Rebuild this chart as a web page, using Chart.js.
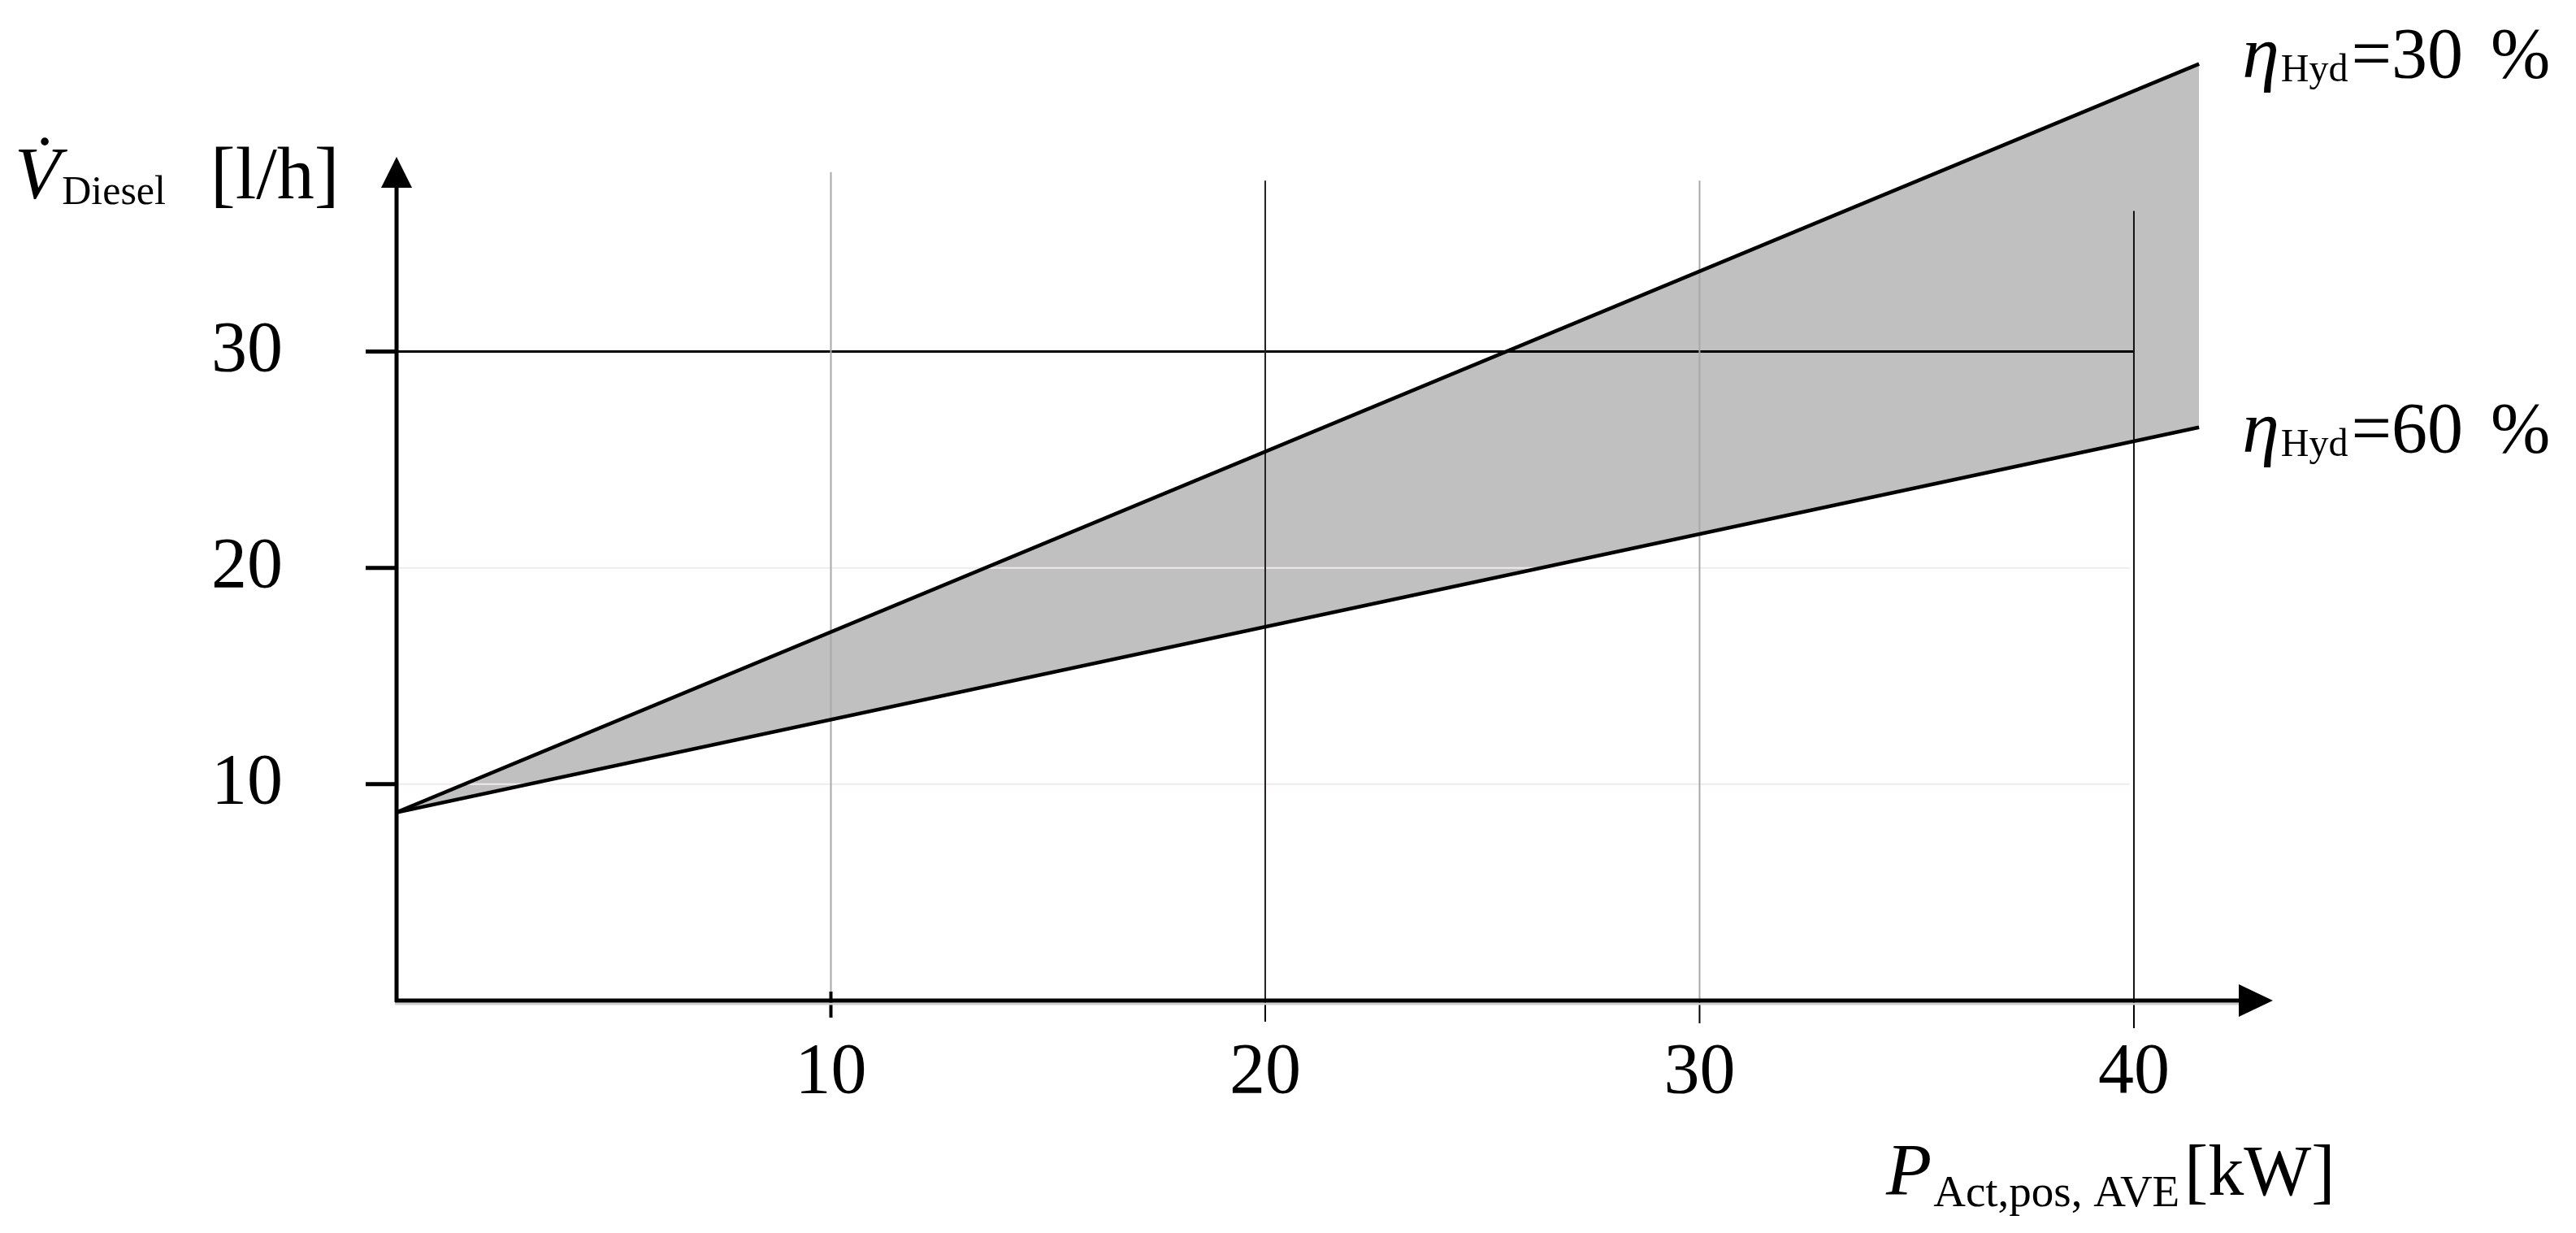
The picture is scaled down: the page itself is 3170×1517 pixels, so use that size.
<!DOCTYPE html>
<html>
<head>
<meta charset="utf-8">
<script src="https://cdn.jsdelivr.net/npm/chart.js@4.4.1/dist/chart.umd.min.js"></script>
<style>
  html, body { margin: 0; padding: 0; background: #fff; }
  #wrap { width: 3170px; height: 1517px; }
</style>
</head>
<body>
<div id="wrap"><canvas id="chart" width="3170" height="1517"></canvas></div>
<script>
// values
const powerKW = [0, 41.5];            // P_Act,pos,AVE [kW]
const dieselEta30 = [8.7, 43.3];      // V_Diesel [l/h] at eta_Hyd = 30 %
const dieselEta60 = [8.7, 26.5];      // V_Diesel [l/h] at eta_Hyd = 60 %
const etaLabels = ['30 %', '60 %'];
const xTicks = [10, 20, 30, 40];
const yTicks = [10, 20, 30];

const SERIF = '"Liberation Serif", "DejaVu Serif", serif';
const font = (size, italic) => (italic ? 'italic ' : '') + size + 'px ' + SERIF;

function toPoints(xs, ys) {
    return xs.map((x, i) => ({ x: x, y: ys[i] }));
}

// draw a run of text pieces one after another (for subscripts)
function drawRich(ctx, x, y, parts) {
    parts.forEach(p => {
        ctx.font = p.font;
        if (p.x !== undefined) x = p.x;
        ctx.fillText(p.text, x, y + (p.dy || 0));
        x += ctx.measureText(p.text).width + (p.gap || 0);
    });
}

const sketchPlugin = {
    id: 'sketch',
    // grid lines go over the grey band, under the curves
    beforeDatasetsDraw(chart, args, opts) {
        const ctx = chart.ctx;
        const xs = chart.scales.x, ys = chart.scales.y;
        const y0 = ys.getPixelForValue(0);
        ctx.save();
        // faint horizontal lines + the 30 line
        yTicks.forEach((v, i) => {
            const st = opts.yGrid[i];
            const py = ys.getPixelForValue(v);
            ctx.strokeStyle = st.color;
            ctx.lineWidth = st.width;
            ctx.beginPath();
            ctx.moveTo(xs.left + (st.from || 0), py);
            ctx.lineTo(xs.getPixelForValue(st.to), py);
            ctx.stroke();
        });
        // vertical lines
        xTicks.forEach((v, i) => {
            const st = opts.xGrid[i];
            const px = xs.getPixelForValue(v);
            ctx.strokeStyle = st.color;
            ctx.lineWidth = st.width;
            ctx.beginPath();
            ctx.moveTo(px, ys.getPixelForValue(st.top));
            ctx.lineTo(px, y0);
            ctx.stroke();
        });
        ctx.restore();
    },
    afterDraw(chart, args, opts) {
        const ctx = chart.ctx;
        const xs = chart.scales.x, ys = chart.scales.y;
        const x0 = xs.getPixelForValue(0), y0 = ys.getPixelForValue(0);
        const xEnd = chart.chartArea.right;
        const yEnd = ys.getPixelForValue(opts.yArrow);
        ctx.save();
        ctx.fillStyle = '#000';
        ctx.strokeStyle = '#000';

        // tick marks
        xTicks.forEach((v, i) => {
            const st = opts.xGrid[i];
            const px = xs.getPixelForValue(v);
            ctx.lineWidth = st.tickWidth;
            ctx.beginPath();
            ctx.moveTo(px, y0 - st.tickUp);
            ctx.lineTo(px, y0 + st.tickDown);
            ctx.stroke();
        });
        yTicks.forEach(v => {
            const py = ys.getPixelForValue(v);
            ctx.lineWidth = 5;
            ctx.beginPath();
            ctx.moveTo(x0 - 38, py);
            ctx.lineTo(x0, py);
            ctx.stroke();
        });

        // light shadow under x axis
        ctx.strokeStyle = '#cfcfcf';
        ctx.lineWidth = 3;
        ctx.beginPath();
        ctx.moveTo(x0 - 2, y0 + 4);
        ctx.lineTo(xEnd - 40, y0 + 4);
        ctx.stroke();

        // axes with arrow heads
        ctx.strokeStyle = '#000';
        ctx.lineWidth = 5;
        ctx.beginPath();
        ctx.moveTo(x0 - 2, y0);
        ctx.lineTo(xEnd - 38, y0);
        ctx.moveTo(x0, y0 + 2);
        ctx.lineTo(x0, yEnd + 36);
        ctx.stroke();
        ctx.beginPath();
        ctx.moveTo(xEnd, y0);
        ctx.lineTo(xEnd - 42, y0 - 20);
        ctx.lineTo(xEnd - 42, y0 + 20);
        ctx.closePath();
        ctx.fill();
        ctx.beginPath();
        ctx.moveTo(x0, yEnd);
        ctx.lineTo(x0 - 19, yEnd + 38);
        ctx.lineTo(x0 + 19, yEnd + 38);
        ctx.closePath();
        ctx.fill();

        // curve labels
        ctx.textBaseline = 'alphabetic';
        ctx.textAlign = 'left';
        const series = [dieselEta30, dieselEta60];
        series.forEach((s, i) => {
            const lx = xs.getPixelForValue(powerKW[powerKW.length - 1]) + 53;
            const ly = ys.getPixelForValue(s[s.length - 1]) + opts.labelDy[i];
            const parts = etaLabels[i].split(' ');
            drawRich(ctx, lx, ly, [
                { text: 'η', font: font(92, true), gap: 2 },
                { text: 'Hyd', font: font(48), dy: 5, gap: 4 },
                { text: '=' + parts[0], font: font(88), gap: 34 },
                { text: parts[1], font: font(88) },
            ]);
        });

        // y axis title
        drawRich(ctx, 18, 244, [
            { text: 'V', font: font(92, true), gap: 2 },
            { text: 'Diesel', font: font(50), dy: 7 },
            { text: '[l/h]', font: font(92), x: 259 },
        ]);
        ctx.font = font(90);
        ctx.fillText('˙', 40, 230);

        // x axis title
        drawRich(ctx, 2321, 1470, [
            { text: 'P', font: font(92, true), gap: 2 },
            { text: 'Act,pos, AVE', font: font(55), dy: 14 },
            { text: '[kW]', font: font(88), x: 2688 },
        ]);
        ctx.restore();
    }
};

new Chart(document.getElementById('chart'), {
    type: 'line',
    data: {
        datasets: [
            {
                label: 'ηHyd=30 %',
                data: toPoints(powerKW, dieselEta30),
                borderColor: '#000',
                borderWidth: 4.5,
                backgroundColor: '#c0c0c0',
                fill: '+1',
            },
            {
                label: 'ηHyd=60 %',
                data: toPoints(powerKW, dieselEta60),
                borderColor: '#000',
                borderWidth: 4.5,
                fill: false,
            }
        ]
    },
    options: {
        responsive: false,
        animation: false,
        layout: { padding: { left: 0, right: 373, top: 0, bottom: 0 } },
        elements: { point: { radius: 0 }, line: { tension: 0 } },
        plugins: {
            legend: { display: false },
            tooltip: { enabled: false },
            filler: { drawTime: 'beforeDatasetsDraw' },
            sketch: {
                yArrow: 39.0,
                labelDy: [16, 30],
                xGrid: [
                    { top: 38.3, color: '#a8a8a8', width: 2, tickWidth: 4, tickUp: 11, tickDown: 21 },
                    { top: 37.9, color: '#222', width: 2, tickWidth: 2, tickUp: 0, tickDown: 26 },
                    { top: 37.9, color: '#a8a8a8', width: 2, tickWidth: 2, tickUp: 0, tickDown: 28 },
                    { top: 36.5, color: '#111', width: 2, tickWidth: 2, tickUp: 0, tickDown: 34 },
                ],
                yGrid: [
                    { color: '#f1eaec', width: 2, to: 39.9 },
                    { color: '#f1eaec', width: 2, to: 39.9 },
                    { color: '#000', width: 3, to: 40, from: -38 },
                ],
            },
        },
        scales: {
            x: {
                type: 'linear',
                min: 0,
                max: 43.2,
                afterBuildTicks: s => { s.ticks = xTicks.map(v => ({ value: v })); },
                afterFit: s => { s.height = 286; },
                grid: { display: false, drawTicks: false },
                border: { display: false },
                ticks: {
                    color: '#000',
                    font: { family: SERIF, size: 88, lineHeight: 1 },
                    padding: 46,
                    maxRotation: 0,
                    autoSkip: false,
                },
            },
            y: {
                type: 'linear',
                min: 0,
                max: 44.6,
                afterBuildTicks: s => { s.ticks = yTicks.map(v => ({ value: v })); },
                afterFit: s => { s.width = 488; },
                // tick length (not padding) keeps the labels away from the axis
                grid: { display: false, drawTicks: true, tickLength: 140 },
                border: { display: false },
                ticks: {
                    color: '#000',
                    font: { family: SERIF, size: 88, lineHeight: 1 },
                    padding: 0,
                    autoSkip: false,
                },
            },
        },
    },
    plugins: [sketchPlugin],
});
</script>
</body>
</html>
